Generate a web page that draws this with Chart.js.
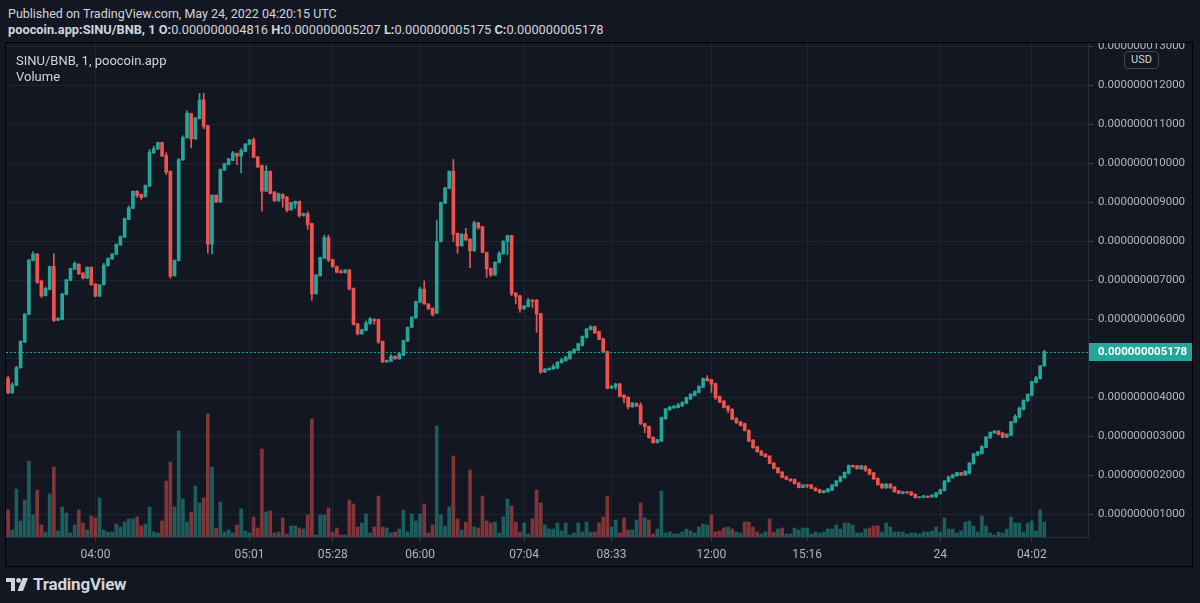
<!DOCTYPE html>
<html lang="en">
<head>
<meta charset="UTF-8">
<title>SINU/BNB, 1, poocoin.app</title>
<script src="https://cdn.jsdelivr.net/npm/chart.js"></script>
<style>
    body {
        margin: 0;
        width: 1200px;
        height: 603px;
        background: #131722;
        color: #d1d4dc;
        font-family: Roboto, sans-serif;
        position: relative;
        overflow: hidden;
    }
    #pub { position: absolute; left: 8px; top: 6px; font-size: 12.5px; line-height: 15px; }
    #ohlc { position: absolute; left: 8px; top: 22px; font-size: 12.8px; line-height: 15px; }
    #frame { position: absolute; left: 5px; top: 42px; width: 1186px; height: 523px; border: 1px solid #000; }
    #box { position: absolute; left: 0; top: 0; width: 1186px; height: 523px; }
    #legend { position: absolute; left: 10px; top: 10px; font-size: 13px; line-height: 16px; pointer-events: none; }
    #usd {
        position: absolute; left: 1118px; top: 8px; width: 33px; height: 16px;
        border: 1px solid #434651; border-radius: 4px; background: #131722;
        font-size: 11px; line-height: 16px; text-align: center; color: #d1d4dc;
    }
    #logo { position: absolute; left: 6px; top: 575px; height: 18px; display: flex; align-items: center; }
    #logo span { font-size: 17px; font-weight: 700; margin-left: 5px; letter-spacing: -0.2px; }
</style>
</head>
<body>
<div id="pub">Published on TradingView.com, May 24, 2022 04:20:15 UTC</div>
<div id="ohlc"><b>poocoin.app:SINU/BNB, 1</b> <b>O:</b>0.000000004816 <b>H:</b>0.000000005207 <b>L:</b>0.000000005175 <b>C:</b>0.000000005178</div>

<div id="frame">
    <div id="box"><canvas id="myChart"></canvas></div>
    <div id="legend">SINU/BNB, 1, poocoin.app<br>Volume</div>
    <div id="usd">USD</div>
</div>

<div id="logo">
    <svg width="22" height="13" viewBox="0 0 22 13">
        <path d="M0 0H9V13H5V4H0Z" fill="#d1d4dc"/>
        <circle cx="12.6" cy="2.4" r="2.4" fill="#d1d4dc"/>
        <path d="M16.5 0H22L17 13H11.5Z" fill="#d1d4dc"/>
    </svg>
    <span>TradingView</span>
</div>

<script>
// prices in units of 0.000000001 BNB (1 minute candles)
const open = [
    4.49,4.12,4.31,4.76,5.42,6.13,7.51,7.68,6.99,6.61,
    6.77,7.36,5.98,6.00,6.64,7.00,7.29,7.42,7.19,7.06,
    7.34,6.91,6.60,6.89,7.38,7.55,7.67,7.91,8.11,8.57,
    8.85,9.29,9.21,9.15,9.42,10.27,10.37,10.54,10.20,9.80,
    7.12,7.51,10.09,10.66,11.28,10.63,11.15,11.63,10.97,7.93,
    9.19,9.01,9.83,9.97,10.08,10.26,10.19,10.31,10.49,10.61,
    10.17,9.95,9.29,9.80,9.27,9.04,9.21,9.14,8.81,8.96,
    9.03,8.66,8.71,8.46,6.66,7.12,7.57,8.10,7.54,7.36,
    7.23,7.20,7.27,6.80,5.89,5.63,5.72,5.89,6.00,6.00,
    5.44,4.91,4.93,5.06,4.99,5.08,5.44,5.80,6.04,6.44,
    6.78,6.40,6.29,6.16,8.00,8.98,9.36,9.80,8.21,7.89,
    8.19,8.06,7.76,8.48,8.38,7.72,7.31,7.14,7.46,7.68,
    8.00,8.15,6.68,6.61,6.27,6.33,6.50,6.50,6.15,4.65,
    4.71,4.73,4.75,4.89,4.94,4.99,5.14,5.21,5.33,5.54,
    5.74,5.82,5.69,5.51,5.18,4.24,4.27,4.35,4.06,4.01,
    3.76,3.85,3.80,3.33,3.26,2.98,2.84,2.88,3.45,3.68,
    3.73,3.74,3.78,3.85,3.96,4.05,4.13,4.26,4.49,4.46,
    4.36,4.03,3.91,3.78,3.70,3.47,3.38,3.33,3.16,2.91,
    2.74,2.63,2.55,2.50,2.32,2.20,2.09,1.97,1.91,1.90,
    1.81,1.69,1.76,1.76,1.68,1.64,1.56,1.58,1.62,1.73,
    1.84,1.94,2.05,2.26,2.25,2.17,2.24,2.16,2.07,1.93,
    1.78,1.68,1.78,1.71,1.61,1.54,1.58,1.58,1.52,1.43,
    1.44,1.47,1.45,1.45,1.53,1.61,1.84,1.94,1.99,2.07,
    2.01,2.05,2.30,2.52,2.56,2.72,2.96,3.09,3.14,3.09,
    2.98,3.03,3.36,3.49,3.69,3.91,4.05,4.38,4.48,4.816
];
const high = [
    4.55,4.38,4.80,5.46,6.15,7.55,7.74,7.69,7.00,6.83,
    7.37,7.69,6.05,6.67,7.03,7.32,7.48,7.43,7.20,7.35,
    7.35,6.92,6.90,7.44,7.58,7.69,7.94,8.14,8.60,8.91,
    9.30,9.30,9.22,9.45,10.36,10.44,10.55,10.55,10.28,9.81,
    7.53,10.13,10.71,11.35,11.29,11.18,11.80,11.80,10.98,9.20,
    9.20,9.86,10.01,10.13,10.31,10.27,10.38,10.51,10.62,10.66,
    10.18,9.96,9.95,9.81,9.28,9.24,9.22,9.15,9.01,9.04,
    9.04,8.73,8.76,8.47,7.15,7.60,8.16,8.16,7.55,7.37,
    7.28,7.28,7.28,6.81,5.90,5.75,5.96,6.05,6.03,6.01,
    5.45,4.96,5.11,5.07,5.16,5.47,5.81,6.07,6.47,6.83,
    6.99,6.41,6.30,8.55,9.01,9.39,9.81,10.10,8.22,8.20,
    8.34,8.07,8.52,8.49,8.39,7.73,7.32,7.48,7.74,8.02,
    8.16,8.16,6.69,6.62,6.36,6.54,6.51,6.51,6.16,4.74,
    4.76,4.85,4.92,5.01,5.05,5.19,5.25,5.39,5.58,5.77,
    5.84,5.83,5.70,5.52,5.19,4.30,4.36,4.36,4.07,4.02,
    3.87,3.86,3.86,3.34,3.27,2.99,2.93,3.50,3.72,3.77,
    3.79,3.85,3.89,4.01,4.10,4.17,4.30,4.50,4.56,4.47,
    4.37,4.04,3.92,3.79,3.71,3.48,3.39,3.34,3.17,2.92,
    2.75,2.64,2.56,2.51,2.33,2.21,2.10,1.98,1.92,1.91,
    1.82,1.77,1.77,1.77,1.69,1.65,1.62,1.67,1.77,1.87,
    1.98,2.09,2.27,2.27,2.26,2.26,2.25,2.17,2.08,1.94,
    1.79,1.79,1.79,1.72,1.62,1.59,1.59,1.59,1.53,1.46,
    1.49,1.48,1.51,1.57,1.65,1.87,1.98,2.03,2.09,2.08,
    2.12,2.33,2.57,2.62,2.76,3.00,3.12,3.15,3.15,3.10,
    3.07,3.39,3.56,3.76,3.94,4.10,4.42,4.54,4.82,5.207
];
const low = [
    4.10,4.10,4.30,4.75,5.41,6.12,7.50,6.93,6.57,6.60,
    6.76,5.95,5.97,5.99,6.63,6.99,7.28,7.16,7.04,7.05,
    6.88,6.58,6.59,6.88,7.37,7.54,7.66,7.90,8.10,8.56,
    8.84,9.13,9.08,9.14,9.41,10.26,10.36,10.18,9.72,7.06,
    7.11,7.50,10.08,10.65,10.40,10.62,11.14,10.89,7.70,7.68,
    9.00,9.00,9.82,9.96,10.07,9.97,9.76,10.30,10.48,10.15,
    9.90,8.78,9.28,9.22,9.03,9.03,8.88,8.76,8.80,8.85,
    8.62,8.65,8.31,6.49,6.65,7.11,7.56,7.48,7.34,7.20,
    7.19,7.19,6.76,5.86,5.60,5.62,5.71,5.88,5.88,5.39,
    4.90,4.90,4.92,4.98,4.98,5.07,5.43,5.79,6.03,6.43,
    6.39,6.26,6.09,6.15,7.99,8.97,9.35,8.00,7.70,7.88,
    8.03,7.33,7.75,8.31,7.71,7.08,7.10,7.13,7.45,7.67,
    7.66,6.61,6.40,6.19,6.26,6.32,6.30,5.67,4.62,4.64,
    4.70,4.72,4.74,4.88,4.93,4.98,5.13,5.20,5.32,5.53,
    5.73,5.64,5.48,5.15,4.22,4.23,4.21,4.02,3.86,3.71,
    3.75,3.77,3.31,3.10,2.96,2.83,2.83,2.87,3.44,3.67,
    3.72,3.73,3.77,3.84,3.95,4.04,4.12,4.25,4.42,4.13,
    3.95,3.87,3.73,3.61,3.43,3.34,3.27,3.14,2.87,2.70,
    2.60,2.51,2.47,2.30,2.17,2.06,1.94,1.89,1.85,1.78,
    1.68,1.68,1.69,1.66,1.60,1.55,1.55,1.57,1.61,1.72,
    1.83,1.93,2.04,2.21,2.16,2.16,2.10,2.02,1.90,1.75,
    1.67,1.67,1.67,1.57,1.53,1.53,1.53,1.49,1.42,1.42,
    1.43,1.43,1.44,1.44,1.52,1.60,1.83,1.93,1.98,2.00,
    2.00,2.04,2.29,2.51,2.55,2.71,2.95,3.08,3.04,2.97,
    2.97,3.02,3.35,3.48,3.68,3.90,4.04,4.37,4.47,4.79
];
const close = [
    4.12,4.33,4.77,5.44,6.14,7.52,7.68,6.95,6.60,6.80,
    7.36,5.97,6.03,6.66,7.02,7.31,7.44,7.17,7.06,7.34,
    6.89,6.60,6.89,7.39,7.57,7.68,7.93,8.13,8.59,8.87,
    9.29,9.18,9.12,9.44,10.29,10.38,10.54,10.19,9.78,7.11,
    7.52,10.10,10.67,11.29,10.63,11.17,11.63,10.95,7.93,9.19,
    9.01,9.85,10.00,10.12,10.27,10.19,10.34,10.50,10.61,10.16,
    9.91,9.29,9.80,9.23,9.04,9.23,9.11,8.80,9.00,9.03,
    8.66,8.72,8.43,6.66,7.14,7.59,8.10,7.52,7.35,7.21,
    7.20,7.27,6.78,5.87,5.63,5.74,5.91,6.02,5.97,5.42,
    4.91,4.95,5.06,4.99,5.12,5.46,5.80,6.06,6.46,6.78,
    6.40,6.27,6.12,8.00,9.00,9.38,9.80,8.19,7.89,8.19,
    8.04,7.76,8.48,8.35,7.72,7.30,7.14,7.47,7.70,8.01,
    8.15,6.66,6.59,6.27,6.35,6.50,6.47,6.14,4.65,4.73,
    4.75,4.80,4.91,4.97,5.04,5.18,5.24,5.38,5.57,5.76,
    5.82,5.65,5.49,5.16,4.24,4.29,4.35,4.03,3.99,3.76,
    3.86,3.78,3.32,3.25,2.97,2.84,2.92,3.49,3.71,3.76,
    3.78,3.81,3.88,4.00,4.09,4.16,4.29,4.49,4.43,4.34,
    3.99,3.88,3.74,3.68,3.44,3.35,3.28,3.15,2.88,2.71,
    2.61,2.52,2.48,2.31,2.18,2.07,1.95,1.90,1.86,1.79,
    1.69,1.76,1.73,1.67,1.61,1.56,1.61,1.66,1.76,1.86,
    1.97,2.08,2.26,2.22,2.17,2.25,2.14,2.03,1.91,1.76,
    1.68,1.78,1.68,1.58,1.54,1.58,1.56,1.50,1.43,1.45,
    1.48,1.44,1.50,1.56,1.64,1.86,1.97,2.02,2.08,2.01,
    2.11,2.32,2.56,2.61,2.75,2.99,3.11,3.14,3.05,2.98,
    3.06,3.38,3.52,3.73,3.93,4.08,4.41,4.51,4.81,5.178
];
const volume = [
    27,7,48,16,37,76,22,47,12,5,
    43,70,6,30,24,4,12,27,14,7,
    21,19,39,7,5,5,13,10,15,18,
    18,20,11,13,30,5,4,16,56,75,
    30,106,38,15,25,51,34,39,123,70,
    9,35,5,7,4,12,28,6,4,20,
    9,88,25,26,4,5,19,3,11,11,
    9,8,22,118,2,22,22,29,5,9,
    2,2,37,33,10,14,23,4,10,41,
    10,9,4,5,8,27,5,23,16,23,
    33,4,12,111,22,11,30,81,18,7,
    15,67,10,9,41,16,14,15,4,20,
    38,31,15,5,14,3,18,47,34,12,
    8,8,14,6,14,2,4,14,5,15,
    5,5,14,20,41,10,17,4,19,7,
    7,17,34,19,17,3,8,46,4,5,
    3,3,5,8,6,4,10,13,12,22,
    5,6,9,10,8,5,4,15,15,10,
    5,3,5,18,5,8,9,3,3,9,
    7,9,9,3,5,4,5,8,8,12,
    8,14,14,12,4,4,8,9,11,11,
    5,14,10,5,5,5,3,4,4,3,
    5,5,6,10,5,19,8,8,4,6,
    15,16,11,5,21,11,4,2,5,4,
    8,20,14,14,5,14,16,6,27,15
];
// u = buy volume, d = sell volume
const volumeSide = (
    'duuuuuuddu' + 'uduuuuuddu' + 'dduuuuuuuu' + 'udduuuuddd' + 'uuuuduuddu' +
    'duuuuduuud' + 'dduddudduu' + 'dudduuuddd' + 'duddduuudd' + 'duuduuuuuu' +
    'ddduuuuddu' + 'ddudddduuu' + 'uddduudddu' + 'uuuuuuuuuu' + 'udddduuddd' +
    'uududduuuu' + 'uuuuuuuuud' + 'ddduduuddd' + 'duudduduuu' + 'uuuuuuuuuu' +
    'uuuuuuuddd' + 'uuuuuuuuuu' + 'uuuuuuuuuu' + 'uuuuuuuuuu' + 'uuuuuuuuuu'
).split('');

const tickIndex = [21, 58, 78, 99, 124, 145, 169, 192, 224, 246];
const tickText = ['04:00', '05:01', '05:28', '06:00', '07:04', '08:33', '12:00', '15:16', '24', '04:02'];

const slots = 260; // bar spaces on the time scale, including the empty right margin
const up = '#26a69a';
const down = '#ef5350';

const tickMap = {};
tickIndex.forEach((t, i) => tickMap[t] = tickText[i]);

const labels = [];
for (let i = 0; i < slots; i++) labels.push(i);

const candleColors = close.map((c, i) => c >= open[i] ? up : down);
const bodies = open.map((o, i) => [Math.min(o, close[i]), Math.max(o, close[i])]);
const wicks = low.map((l, i) => [l, high[i]]);
const volColors = volumeSide.map(s => s === 'u' ? 'rgba(38,166,154,0.5)' : 'rgba(239,83,80,0.5)');

function fmt(v) {
    return (v * 1e-9).toFixed(12);
}

const lastPrice = {
    id: 'lastPrice',
    afterDraw(chart) {
        const ctx = chart.ctx;
        const area = chart.chartArea;
        const last = close[close.length - 1];
        const y = Math.round(chart.scales.y.getPixelForValue(last)) + 0.5;
        ctx.save();
        ctx.strokeStyle = up;
        ctx.lineWidth = 1;
        ctx.setLineDash([2, 2]);
        ctx.beginPath();
        ctx.moveTo(area.left, y);
        ctx.lineTo(area.right, y);
        ctx.stroke();
        ctx.setLineDash([]);
        ctx.fillStyle = up;
        ctx.fillRect(area.right + 1, y - 9.5, chart.width - area.right, 18);
        ctx.fillStyle = '#ffffff';
        ctx.font = 'bold 11.5px Roboto';
        ctx.textBaseline = 'middle';
        ctx.fillText(fmt(last), area.right + 10, y);
        ctx.restore();
    }
};

Chart.defaults.font.family = 'Roboto';

new Chart(document.getElementById('myChart'), {
    type: 'bar',
    data: {
        labels: labels,
        datasets: [
            { data: bodies, backgroundColor: candleColors, barThickness: 3, minBarLength: 1, grouped: false, order: 0, yAxisID: 'y' },
            { data: wicks, backgroundColor: candleColors, barThickness: 1, grouped: false, order: 1, yAxisID: 'y' },
            { data: volume, backgroundColor: volColors, barThickness: 3, grouped: false, order: 2, yAxisID: 'yv' }
        ]
    },
    options: {
        responsive: true,
        maintainAspectRatio: false,
        animation: false,
        events: [],
        layout: { padding: 0 },
        plugins: { legend: { display: false }, tooltip: { enabled: false } },
        scales: {
            x: {
                offset: true,
                grid: { offset: false, color: '#202430', tickLength: 4, tickColor: '#363a45' },
                border: { color: '#2a2e39' },
                ticks: {
                    autoSkip: false, maxRotation: 0, minRotation: 0,
                    color: '#b2b5be', font: { size: 12 }, padding: 7,
                    callback: (v, i) => tickMap[i] ?? null
                },
                afterFit(s) { s.height = 29; s.paddingLeft = 0; s.paddingRight = 0; }
            },
            y: {
                position: 'right',
                min: 0.423,
                max: 13.09,
                grid: { color: '#202430', tickLength: 5, tickColor: '#434651' },
                border: { color: '#2a2e39' },
                ticks: {
                    stepSize: 1, includeBounds: false,
                    color: '#b2b5be', font: { size: 11.5 }, padding: 5,
                    callback: v => fmt(v)
                },
                afterFit(s) { s.width = 104; s.paddingTop = 0; s.paddingBottom = 0; }
            },
            yv: {
                display: false,
                position: 'left',
                min: 0,
                max: 494
            }
        }
    },
    plugins: [lastPrice]
});
</script>
</body>
</html>
